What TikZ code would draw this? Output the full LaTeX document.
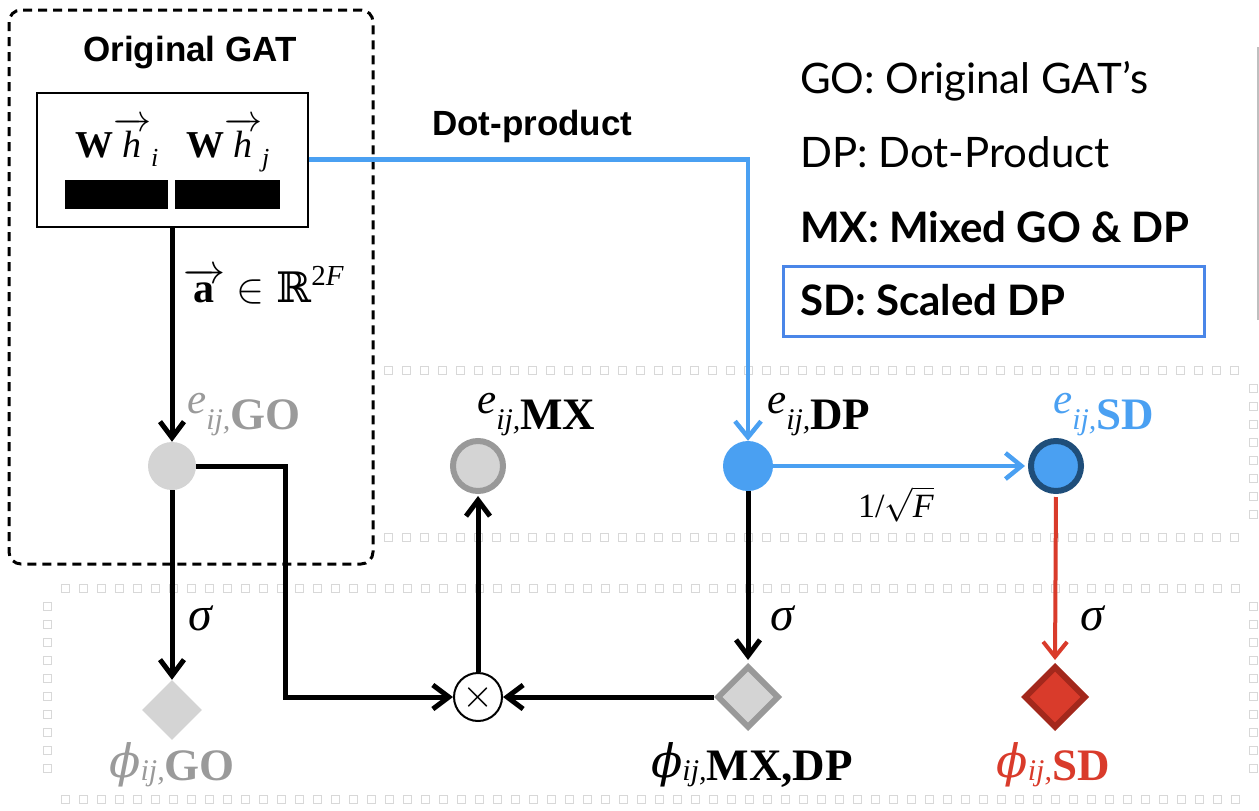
\RequirePackage{fix-cm}
\documentclass[tikz,border=0pt]{standalone}
\usepackage{fontspec}
\setmainfont{Liberation Serif}
\newfontfamily\hvfont{Liberation Sans}
\newfontfamily\ltfont{Lato}
\newfontfamily\djfont{DejaVu Serif}
\usetikzlibrary{arrows.meta,shapes.geometric}
\definecolor{lblue}{HTML}{4AA0F2}
\definecolor{navy}{HTML}{1F4E7A}
\definecolor{lgray}{HTML}{D4D4D4}
\definecolor{mgray}{HTML}{999999}
\definecolor{tgray}{HTML}{9A9A9A}
\definecolor{myred}{HTML}{D93B2B}
\definecolor{dred}{HTML}{A3281C}
\definecolor{legblue}{HTML}{4A86E8}
\definecolor{sqgray}{HTML}{D8D8D8}
\newcommand{\elab}[1]{\fontsize{43}{43}\selectfont\itshape e\raisebox{-16pt}{\fontsize{30}{30}\selectfont ij,\upshape\bfseries\fontsize{45}{45}\selectfont #1}}
\newcommand{\plab}[1]{{\djfont\itshape\fontsize{46}{46}\selectfont ϕ}\raisebox{-3pt}{\fontsize{30}{30}\selectfont\itshape ij,\upshape\bfseries\fontsize{45}{45}\selectfont #1}}
\newcommand{\wh}[1]{\textbf{W}$\overrightarrow{\mbox{\hspace{8pt}\itshape h\hspace{8pt}}}$\raisebox{-9pt}{\fontsize{26}{26}\selectfont\itshape #1}}
\tikzset{
  blk/.style={line width=5pt, -{Straight Barb[length=16pt,width=24pt]}},
  blu/.style={draw=lblue, line width=4.5pt, -{Straight Barb[length=16pt,width=26pt]}},
  rdl/.style={draw=myred, line width=4pt, -{Straight Barb[length=15pt,width=24pt]}},
  sqr/.style={draw=sqgray, line width=1pt},
  lab/.style={inner sep=0pt, anchor=base west},
  plabel/.style={inner sep=0pt, anchor=base},
  dot/.style={circle, inner sep=0pt, minimum size=#1},
  dia/.style={diamond, aspect=1, inner sep=0pt, minimum size=#1},
  sig/.style={inner sep=0pt, font={\itshape\fontsize{48}{48}\selectfont}},
  legend/.style={inner sep=0pt, anchor=base west, font={\ltfont\fontsize{42}{42}\selectfont}},
  legendb/.style={inner sep=0pt, anchor=base west, font={\ltfont\bfseries\fontsize{42}{42}\selectfont}},
}
\begin{document}
\begin{tikzpicture}[x=1pt,y=-1pt]
\useasboundingbox (0,0) rectangle (1259,811);
% dotted bands of small squares
\foreach \x in {388,406,...,1245} {
  \draw[sqr] (\x-4,366) rectangle ++(8,8);
  \draw[sqr] (\x-4,533) rectangle ++(8,8);
}
\foreach \y in {388,406,...,520} {
  \draw[sqr] (1249,\y-4) rectangle ++(8,8);
}
\foreach \x in {65,83,...,1245} {
  \draw[sqr] (\x-4,584) rectangle ++(8,8);
  \draw[sqr] (\x-4,795) rectangle ++(8,8);
}
\foreach \y in {606,624,...,785} {
  \draw[sqr] (43,\y-4) rectangle ++(8,8);
  \draw[sqr] (1249,\y-4) rectangle ++(8,8);
}
% Original GAT dashed box
\draw[line width=3pt, dash pattern=on 9pt off 6pt, rounded corners=12pt] (9,10) rectangle (373,564);
\node[inner sep=0pt, anchor=base, font={\hvfont\bfseries\fontsize{35}{35}\selectfont}] (title) at (190,61) {Original GAT};
\node[draw, line width=2pt, fill=white, minimum width=271pt, minimum height=134pt, inner sep=0pt] (box) at (172,159.5) {};
\fill (65,180) rectangle (168,209);
\fill (175,180) rectangle (280,209);
\node[lab, font={\fontsize{38}{38}\selectfont}] (wi) at (75,157) {\wh{i}};
\node[lab, font={\fontsize{38}{38}\selectfont}] (wj) at (186,157) {\wh{j}};
\node[lab, font={\fontsize{42}{42}\selectfont}] (avec) at (183,302) {$\overrightarrow{\mbox{\hspace{4pt}\bfseries a\hspace{4pt}}}\in{}${\djfont ℝ}\raisebox{17pt}{\fontsize{29}{29}\selectfont 2\itshape F}};
\node[lab, font={\hvfont\bfseries\fontsize{35}{35}\selectfont}] (dotp) at (432,135) {Dot-product};
% legend
\node[legend] (lg1) at (800,93) {GO: Original GAT’s};
\node[legend] (lg2) at (800,167) {DP: Dot-Product};
\node[legendb] (lg3) at (800,242) {MX: Mixed GO \& DP};
\node[draw=legblue, line width=3pt, anchor=north west, minimum width=421pt, minimum height=70pt, inner sep=0pt] (sdbox) at (782,265) {};
\node[legendb] (lg4) at (800,315) {SD: Scaled DP};
\draw[draw=black!25, line width=1.5pt] (1258,47) -- (1258,320);
% nodes
\node[dot=48pt, fill=lgray] (eGO) at (172,466) {};
\node[dot=50pt, fill=lgray, draw=mgray, line width=6pt] (eMX) at (478,466) {};
\node[dot=50pt, fill=lblue] (eDP) at (748,466) {};
\node[dot=50pt, fill=lblue, draw=navy, line width=6pt] (eSD) at (1056,466) {};
\node[circle, draw, line width=2pt, fill=white, minimum size=48pt, inner sep=0pt, font={\fontsize{40}{40}\selectfont}] (times) at (478,697) {$\times$};
\node[dia=60pt, fill=lgray] (phiGO) at (172,710) {};
\node[dia=62pt, fill=lgray, draw=mgray, line width=6pt] (phiMX) at (748,697) {};
\node[dia=62pt, fill=myred, draw=dred, line width=6pt] (phiSD) at (1055,697) {};
\coordinate (turn) at (285,697);
% labels
\node[lab, text=tgray] (leGO) at (187,413) {\elab{GO}};
\node[lab] (leMX) at (477,413) {\elab{MX}};
\node[lab] (leDP) at (767,413) {\elab{DP}};
\node[lab, text=lblue] (leSD) at (1053,413) {\elab{SD}};
\node[plabel, text=tgray] (lpGO) at (172,777) {\plab{GO}};
\node[plabel] (lpMX) at (752,777) {\plab{MX,DP}};
\node[plabel, text=myred] (lpSD) at (1053,777) {\plab{SD}};
\node[sig] (s1) at (200,618) {σ};
\node[sig] (s2) at (782,618) {σ};
\node[sig] (s3) at (1092,618) {σ};
\node[lab, font={\fontsize{34}{34}\selectfont}] (scale) at (858,517) {1/$\sqrt{\mbox{\itshape F}}$};
% connectors
\draw[blk] (box.south) -- (eGO.north);
\draw[blk] (eGO.south) -- (phiGO.north);
\draw[blk] (eGO.east) -| (turn) -- (times.west);
\draw[blk] (phiMX.west) -- (times.east);
\draw[blk, shorten >=2pt] (times.north) -- (eMX.south);
\draw[blk, shorten >=3pt] (eDP.south) -- (phiMX.north);
\draw[blu] (box.east) -| (eDP.north);
\draw[blu, shorten >=3pt] (eDP.east) -- (eSD.west);
\draw[rdl, shorten <=3pt, shorten >=3pt] (eSD.south) -- (phiSD.north);
\end{tikzpicture}
\end{document}
